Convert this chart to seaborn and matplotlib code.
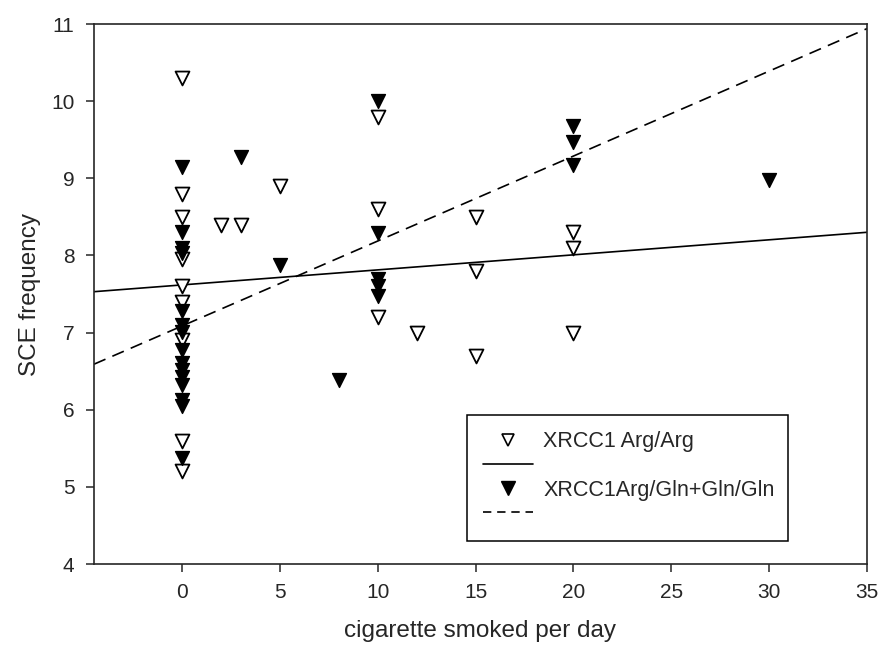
import numpy as np
import pandas as pd
import matplotlib
matplotlib.use("Agg")
import matplotlib.pyplot as plt
from matplotlib.lines import Line2D
import seaborn as sns

# values
arg_x = [0, 0, 0, 0, 0, 0, 0, 0, 0,
         2, 3, 5, 10, 10, 10, 12, 15, 15, 15, 20, 20, 20]
arg_y = [10.3, 8.8, 8.5, 7.95, 7.6, 7.4, 6.9, 5.6, 5.2,
         8.4, 8.4, 8.9, 9.8, 8.6, 7.2, 7.0, 8.5, 7.8, 6.7, 8.3, 8.1, 7.0]

gln_x = [0, 0, 0, 0, 0, 0, 0, 0, 0, 0, 0, 0, 0, 0, 0,
         3, 5, 8, 10, 10, 10, 10, 10, 20, 20, 20, 30]
gln_y = [9.15, 8.3, 8.1, 8.03, 7.28, 7.1, 7.01, 6.78, 6.6, 6.51, 6.42, 6.32, 6.13, 6.05, 5.38,
         9.28, 7.88, 6.38, 10.0, 8.29, 7.7, 7.6, 7.48, 9.68, 9.47, 9.17, 8.98]

# fitted regression lines, endpoints read at the axis edges
line_x = [-4.5, 35]
arg_line_y = [7.53, 8.30]
gln_line_y = [6.59, 10.94]

df_arg = pd.DataFrame({"x": arg_x, "y": arg_y})
df_gln = pd.DataFrame({"x": gln_x, "y": gln_y})

sns.set_style("ticks")
plt.rcParams["font.family"] = ["Liberation Sans", "DejaVu Sans"]

fig = plt.figure(figsize=(8.79, 6.46), dpi=100)
ax = fig.add_axes([94 / 879, 1 - 564 / 646, (867 - 94) / 879, (564 - 24) / 646])

sns.lineplot(x=line_x, y=arg_line_y, ax=ax, color="black", linewidth=1.2)
sns.lineplot(x=line_x, y=gln_line_y, ax=ax, color="black", linewidth=1.2,
             linestyle=(0, (7.5, 4.5)))

sns.scatterplot(data=df_arg, x="x", y="y", ax=ax, marker="v", s=100,
                facecolor="white", edgecolor="black", linewidth=1.3, zorder=3)
sns.scatterplot(data=df_gln, x="x", y="y", ax=ax, marker="v", s=100,
                color="black", edgecolor="black", linewidth=1.0, zorder=4)

ax.set_xlim(-4.5, 35)
ax.set_ylim(4, 11)
ax.set_xticks([0, 5, 10, 15, 20, 25, 30, 35])
ax.set_yticks([4, 5, 6, 7, 8, 9, 10, 11])
ax.tick_params(direction="out", length=6, width=1.1, labelsize=15)
ax.tick_params(axis="x", pad=8)
ax.tick_params(axis="y", pad=8)
for sp in ax.spines.values():
    sp.set_linewidth(1.2)
    sp.set_visible(True)

ax.set_xlabel("cigarette smoked per day", fontsize=17.5, labelpad=13)
ax.set_ylabel("SCE frequency", fontsize=17.5, labelpad=7)

handles = [
    Line2D([], [], marker="v", linestyle="none", markersize=8,
           markerfacecolor="white", markeredgecolor="black", markeredgewidth=1.2),
    Line2D([], [], color="black", linewidth=1.2),
    Line2D([], [], marker="v", linestyle="none", markersize=10,
           markerfacecolor="black", markeredgecolor="black"),
    Line2D([], [], color="black", linewidth=1.2, linestyle=(0, (5, 3.5))),
]
labels = ["XRCC1 Arg/Arg", " ", "XRCC1Arg/Gln+Gln/Gln", " "]
leg = ax.legend(handles, labels, loc="upper left",
                bbox_to_anchor=((467 - 94) / (867 - 94), (564 - 415) / (564 - 24),
                                (788 - 467) / (867 - 94), 0.0),
                mode="expand", fontsize=15.5, frameon=True, fancybox=False,
                edgecolor="black", framealpha=1, handlelength=2.3,
                labelspacing=0.15, borderpad=0.75, borderaxespad=0.0,
                handletextpad=0.5)
leg.get_frame().set_linewidth(1.1)

fig.savefig("out.png", dpi=100)
